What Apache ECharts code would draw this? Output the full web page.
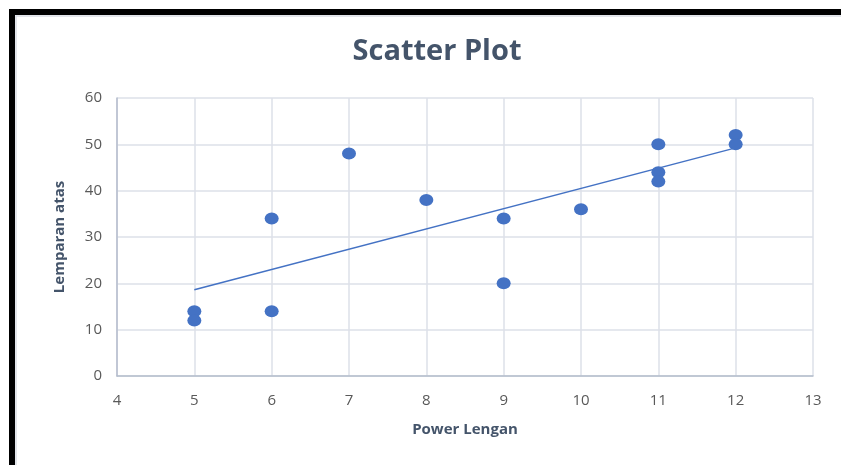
<!DOCTYPE html>
<html><head><meta charset="utf-8">
<script src="https://cdn.jsdelivr.net/npm/echarts@6/dist/echarts.min.js"></script>
<style>html,body{margin:0;padding:0;background:#fff}#c{width:841px;height:465px}</style>
</head><body><div id="c"></div>
<script>
const powerLengan = [5, 5, 6, 6, 7, 8, 9, 9, 10, 11, 11, 11, 12, 12];
const lemparanAtas = [14, 12, 34, 14, 48, 38, 34, 20, 36, 50, 44, 42, 52, 50];
const xTicks = [4, 5, 6, 7, 8, 9, 10, 11, 12, 13];
const yTicks = [0, 10, 20, 30, 40, 50, 60];

// linear trendline (least squares) from the data
const n = powerLengan.length;
const mx = powerLengan.reduce((a,b)=>a+b,0)/n;
const my = lemparanAtas.reduce((a,b)=>a+b,0)/n;
let sxy=0, sxx=0;
for (let i=0;i<n;i++){ sxy+=(powerLengan[i]-mx)*(lemparanAtas[i]-my); sxx+=(powerLengan[i]-mx)**2; }
const slope = sxy/sxx, icpt = my - slope*mx;
const xMin = Math.min(...powerLengan), xMax = Math.max(...powerLengan);
const trend = [[xMin, icpt+slope*xMin],[xMax, icpt+slope*xMax]];

const chart = echarts.init(document.getElementById('c'));
const font = '"Open Sans", "Noto Sans", sans-serif';
chart.setOption({
  animation:false,
  backgroundColor:'#fff',
  title:{text:'Scatter Plot', left:432, top:32, textAlign:'center',
    textStyle:{fontFamily:font, fontSize:29, fontWeight:'bold', color:'#44546a'}},
  grid:{left:117, right:28, top:98, bottom:89},
  xAxis:{type:'value', min:xTicks[0], max:xTicks[xTicks.length-1], interval:1,
    name:'Power Lengan', nameLocation:'middle', nameGap:46,
    nameTextStyle:{fontFamily:font, fontSize:15, fontWeight:'bold', color:'#44546a'},
    axisLine:{show:true, lineStyle:{color:'#b4bdcc', width:1.5}},
    axisTick:{show:false},
    axisLabel:{fontFamily:font, fontSize:15, color:'#595959', margin:17},
    splitLine:{show:true, lineStyle:{color:'#dde1e8', width:1.5}}},
  yAxis:{type:'value', min:yTicks[0], max:yTicks[yTicks.length-1], interval:10,
    name:'Lemparan atas', nameLocation:'middle', nameGap:50, nameRotate:90,
    nameTextStyle:{fontFamily:font, fontSize:15, fontWeight:'bold', color:'#44546a'},
    axisLine:{show:true, lineStyle:{color:'#b4bdcc', width:1.5}},
    axisTick:{show:false},
    axisLabel:{fontFamily:font, fontSize:15, color:'#595959', margin:15},
    splitLine:{show:true, lineStyle:{color:'#dde1e8', width:1.5}}},
  series:[
    {type:'line', data:trend, showSymbol:false, symbol:'none',
     lineStyle:{color:'#4472c4', width:1.5}, z:2},
    {type:'scatter', data:powerLengan.map((x,i)=>[x,lemparanAtas[i]]),
     symbol:'circle', symbolSize:[14,12], itemStyle:{color:'#4472c4', opacity:1}, z:3}
  ],
  graphic:[
    {type:'rect', shape:{x:9,y:9,width:840,height:6}, style:{fill:'#000'}},
    {type:'rect', shape:{x:9,y:9,width:6,height:460}, style:{fill:'#000'}},
    {type:'line', shape:{x1:15.5,y1:16,x2:841,y2:16}, style:{stroke:'#d9dde3', lineWidth:1.5}},
    {type:'line', shape:{x1:16,y1:15.5,x2:16,y2:465}, style:{stroke:'#d9dde3', lineWidth:1.5}}
  ]
});
</script></body></html>
